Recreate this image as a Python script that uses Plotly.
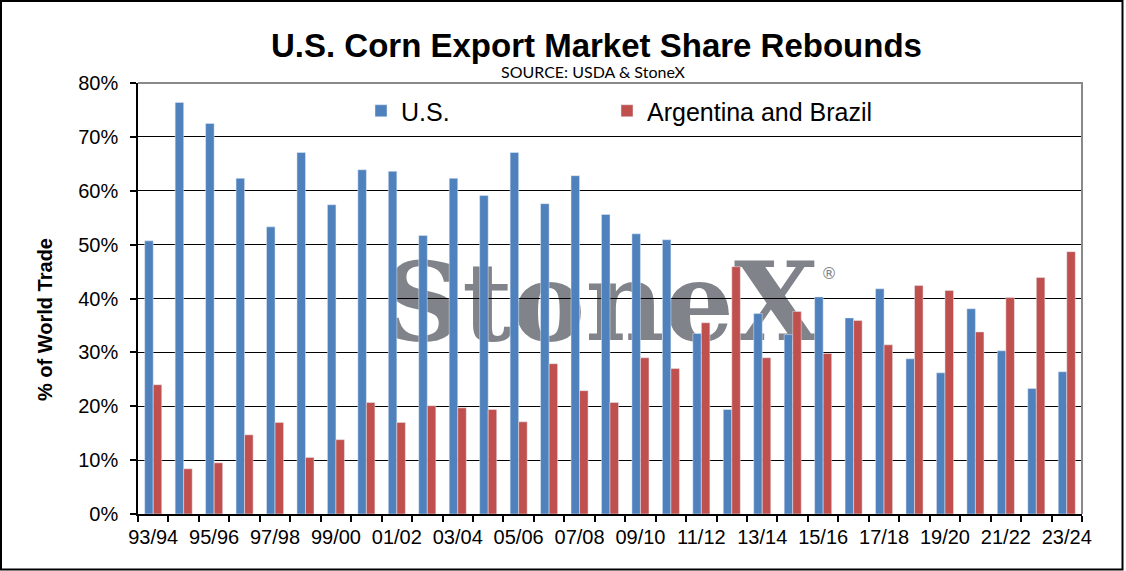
import plotly.graph_objects as go

# marketing years
seasons = ["93/94", "94/95", "95/96", "96/97", "97/98", "98/99", "99/00", "00/01",
           "01/02", "02/03", "03/04", "04/05", "05/06", "06/07", "07/08", "08/09",
           "09/10", "10/11", "11/12", "12/13", "13/14", "14/15", "15/16", "16/17",
           "17/18", "18/19", "19/20", "20/21", "21/22", "22/23", "23/24"]

# share of world corn trade, %
us_share = [50.7, 76.4, 72.5, 62.3, 53.3, 67.1, 57.4, 63.9, 63.6, 51.7, 62.3,
            59.1, 67.1, 57.6, 62.8, 55.6, 52.0, 50.9, 33.5, 19.4, 37.2, 33.3,
            40.3, 36.4, 41.8, 28.8, 26.2, 38.1, 30.3, 23.3, 26.4]
arg_bra_share = [24.0, 8.4, 9.5, 14.7, 17.0, 10.5, 13.8, 20.7, 17.0, 20.1, 19.7,
                 19.4, 17.1, 27.9, 22.9, 20.7, 29.0, 27.0, 35.5, 45.9, 29.0, 37.6,
                 29.8, 35.9, 31.4, 42.4, 41.5, 33.8, 40.2, 43.9, 48.7]

# only every other season is labelled
tick_labels = [s if i % 2 == 0 else "" for i, s in enumerate(seasons)]

W, H = 1126, 571
ML, MR, MT, MB = 138, 44, 83, 57
PW, PH = W - ML - MR, H - MT - MB

def px_x(p):
    return (p - ML) / PW

def px_y(p):
    return (H - MB - p) / PH

FONT = "Liberation Sans, Arial, sans-serif"

fig = go.Figure()
fig.add_trace(go.Bar(x=seasons, y=us_share, name="U.S.", marker_color="#4F81BD",
                     legend="legend"))
fig.add_trace(go.Bar(x=seasons, y=arg_bra_share, name="Argentina and Brazil",
                     marker_color="#C0504D", legend="legend2"))

legend_style = dict(orientation="h", xanchor="left", yanchor="middle",
                    font=dict(size=25), bgcolor="rgba(0,0,0,0)")

fig.update_layout(
    width=W, height=H,
    margin=dict(l=ML, r=MR, t=MT, b=MB, autoexpand=False),
    paper_bgcolor="white",
    plot_bgcolor="rgba(0,0,0,0)",
    font=dict(family=FONT, size=20, color="black"),
    barmode="group", bargap=0.44, bargroupgap=0,
    showlegend=True,
    legend=dict(x=px_x(361), y=px_y(111), **legend_style),
    legend2=dict(x=px_x(607), y=px_y(111), **legend_style),
)

fig.update_xaxes(type="category", tickson="boundaries", ticks="outside", ticklen=6,
                 tickcolor="black", tickwidth=1.5, showline=True, linecolor="black",
                 linewidth=1.5, tickmode="array", tickvals=seasons, ticktext=tick_labels,
                 tickangle=0, showgrid=False, ticklabelstandoff=4)
fig.update_yaxes(range=[0, 80], dtick=10, ticksuffix="%", ticks="outside", ticklen=6,
                 tickcolor="black", tickwidth=1.5, showline=True, linecolor="black",
                 linewidth=1.5, showgrid=True, gridcolor="black", gridwidth=1,
                 zeroline=False, ticklabelstandoff=8)

# StoneX watermark, under the gridlines and bars
fig.add_shape(type="rect", xref="paper", yref="paper",
              x0=px_x(596), x1=px_x(606), y0=px_y(300), y1=px_y(290),
              line=dict(width=0, color="rgba(0,0,0,0)"), layer="below",
              label=dict(text="StoneX", textposition="middle center",
                         font=dict(family="DejaVu Serif", size=109, weight="bold",
                                   color="#808389")))
fig.add_shape(type="rect", xref="paper", yref="paper",
              x0=px_x(826), x1=px_x(832), y0=px_y(275), y1=px_y(269),
              line=dict(width=0, color="rgba(0,0,0,0)"), layer="below",
              label=dict(text="®", textposition="middle center",
                         font=dict(family="DejaVu Sans", size=16, color="#808389")))

# gray top and right edges of the plot area
fig.add_shape(type="path", xref="paper", yref="paper",
              path="M 0,1 L 1,1 L 1,0", line=dict(color="#898989", width=2),
              layer="above")

# outer frame of the picture
fig.add_shape(type="rect", xref="paper", yref="paper",
              x0=px_x(1), x1=px_x(1122.5), y0=px_y(569.5), y1=px_y(1),
              line=dict(color="black", width=2), layer="above")

fig.add_annotation(text="<b>U.S. Corn Export Market Share Rebounds</b>",
                   xref="paper", yref="paper", x=px_x(596.5), y=px_y(45),
                   xanchor="center", yanchor="middle", showarrow=False,
                   font=dict(size=33))
fig.add_annotation(text="SOURCE: USDA & StoneX", xref="paper", yref="paper",
                   x=px_x(593), y=px_y(71), xanchor="center", yanchor="middle",
                   showarrow=False, font=dict(family="Lato, Open Sans", size=16))
fig.add_annotation(text="<b>% of World Trade</b>", xref="paper", yref="paper",
                   x=px_x(45), y=px_y(320), xanchor="center", yanchor="middle",
                   textangle=-90, showarrow=False, font=dict(size=20))

fig.write_html("out.html", config={"displayModeBar": False},
               post_script="document.body.style.margin='0';"
                           "document.body.style.overflow='hidden';")
